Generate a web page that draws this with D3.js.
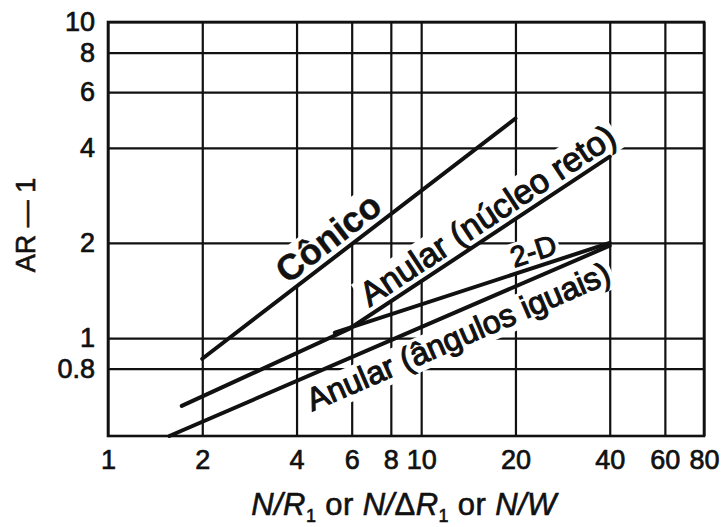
<!DOCTYPE html>
<html>
<head>
<meta charset="utf-8">
<script src="https://cdn.jsdelivr.net/npm/d3@7"></script>
<style>
  body { margin: 0; background: #fff; }
  svg { display: block; font-family: "Liberation Sans", Arial, sans-serif; }
</style>
</head>
<body>
<script>
// tick values
const xTicks = [1, 2, 4, 6, 8, 10, 20, 40, 60, 80];
const yTicks = [0.8, 1, 2, 4, 6, 8, 10];

// curves (N/R1 vs AR-1)
const conicoN = [2, 20];
const conicoAR = [0.86, 4.95];
const nucleoN = [1.72, 5.9, 40];
const nucleoAR = [0.61, 1.07, 3.75];
const twoDN = [5.3, 40];
const twoDAR = [1.04, 2.0];
const angulosN = [1.57, 40];
const angulosAR = [0.49, 1.96];

const width = 721, height = 527;
const plotL = 108, plotR = 704, plotT = 22, plotB = 436;

const svg = d3.select("body").append("svg")
    .attr("width", width)
    .attr("height", height);

const x = d3.scaleLog().domain([1, 80]).range([plotL, plotR]);
const y = d3.scaleLog().domain([0.49, 10]).range([plotB, plotT]);

// grid + tick labels
svg.append("g")
    .attr("transform", "translate(0," + plotB + ")")
    .call(d3.axisBottom(x).tickValues(xTicks).tickSize(-(plotB - plotT))
          .tickPadding(14).tickFormat(d3.format("~g")));
svg.append("g")
    .attr("transform", "translate(" + plotL + ",0)")
    .call(d3.axisLeft(y).tickValues(yTicks).tickSize(-(plotR - plotL))
          .tickPadding(13).tickFormat(d3.format("~g")));

svg.selectAll(".domain").remove();
svg.selectAll(".tick line").attr("stroke", "#111").attr("stroke-width", 2.2);
svg.selectAll(".tick text").attr("fill", "#111").attr("font-size", 27)
    .attr("stroke", "#111").attr("stroke-width", 0.7)
    .attr("font-family", "Liberation Sans, Arial, sans-serif");

// frame
svg.append("rect")
    .attr("x", plotL).attr("y", plotT)
    .attr("width", plotR - plotL).attr("height", plotB - plotT)
    .attr("fill", "none").attr("stroke", "#111").attr("stroke-width", 2.6);

const series = [
  { n: conicoN, ar: conicoAR },
  { n: nucleoN, ar: nucleoAR },
  { n: twoDN, ar: twoDAR },
  { n: angulosN, ar: angulosAR }
];

const line = d3.line().x(d => x(d[0])).y(d => y(d[1]));

// labels: series index, segment, position on segment, gap, side
const labels = [
  { text: "Cônico", s: 0, seg: 0, t: 0.44, gap: 7, below: false, size: 36, weight: "bold" },
  { text: "Anular (núcleo reto)", s: 1, seg: 1, t: 0.57, gap: 7, below: false, size: 34, weight: "normal" },
  { text: "2-D", s: 2, seg: 0, t: 0.74, gap: 6, below: false, size: 29, weight: "normal" },
  { text: "Anular (ângulos iguais)", s: 3, seg: 0, t: 0.635, gap: 11, below: true, size: 32, weight: "normal" }
];

labels.forEach(l => {
  const s = series[l.s];
  const x0 = x(s.n[l.seg]), y0 = y(s.ar[l.seg]);
  const x1 = x(s.n[l.seg + 1]), y1 = y(s.ar[l.seg + 1]);
  l.px = x0 + (x1 - x0) * l.t;
  l.py = y0 + (y1 - y0) * l.t;
  l.angle = Math.atan2(y1 - y0, x1 - x0) * 180 / Math.PI;
});

// white boxes behind the labels hide the grid
const labelG = svg.append("g").selectAll("g")
    .data(labels)
    .enter().append("g")
      .attr("transform", d => "translate(" + d.px + "," + d.py + ") rotate(" + d.angle + ")");

const bgG = labelG.append("g");

svg.append("g").selectAll("path")
    .data(series)
    .enter().append("path")
      .attr("d", d => line(d.n.map((v, i) => [v, d.ar[i]])))
      .attr("fill", "none")
      .attr("stroke", "#111")
      .attr("stroke-width", 4)
      .attr("stroke-linecap", "round");

const textG = svg.append("g").selectAll("g")
    .data(labels)
    .enter().append("g")
      .attr("transform", d => "translate(" + d.px + "," + d.py + ") rotate(" + d.angle + ")");

textG.append("text")
    .attr("y", d => d.below ? d.gap : -d.gap)
    .attr("dominant-baseline", d => d.below ? "hanging" : "auto")
    .attr("text-anchor", "middle")
    .attr("font-size", d => d.size)
    .attr("font-weight", d => d.weight)
    .attr("fill", "#111")
    .attr("stroke", "#111")
    .attr("stroke-width", d => d.weight === "bold" ? 0.4 : 1.1)
    .text(d => d.text)
    .each(function(d) { d.box = this.getBBox(); });

bgG.append("rect")
    .attr("x", d => d.box.x - 3)
    .attr("y", d => d.box.y + 2)
    .attr("width", d => d.box.width + 6)
    .attr("height", d => d.box.height - 2)
    .attr("fill", "#fff");

// axis titles
const xt = svg.append("text")
    .attr("x", 404).attr("y", 515)
    .attr("text-anchor", "middle")
    .attr("font-size", 31)
    .attr("letter-spacing", 0.4)
    .attr("fill", "#111")
    .attr("stroke", "#111")
    .attr("stroke-width", 0.6);
xt.append("tspan").attr("font-style", "italic").text("N/R");
xt.append("tspan").attr("font-size", 18).attr("dy", 7).text("1");
xt.append("tspan").attr("dy", -7).text(" or ");
xt.append("tspan").attr("font-style", "italic").text("N/");
xt.append("tspan").text("Δ");
xt.append("tspan").attr("font-style", "italic").text("R");
xt.append("tspan").attr("font-size", 18).attr("dy", 7).text("1");
xt.append("tspan").attr("dy", -7).text(" or ");
xt.append("tspan").attr("font-style", "italic").text("N/W");

svg.append("text")
    .attr("transform", "translate(35,225) rotate(-90)")
    .attr("text-anchor", "middle")
    .attr("font-size", 27)
    .attr("fill", "#111")
    .attr("stroke", "#111")
    .attr("stroke-width", 0.6)
    .text("AR — 1");
</script>
</body>
</html>
